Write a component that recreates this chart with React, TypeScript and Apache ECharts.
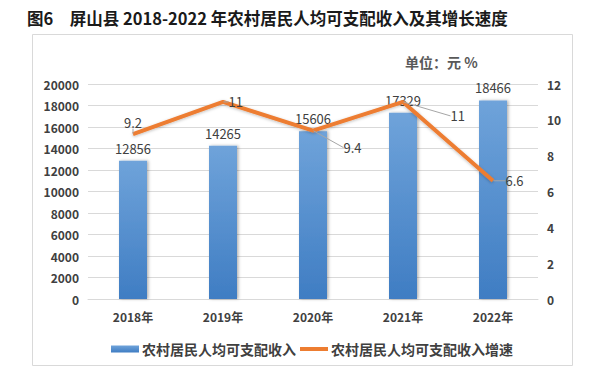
import React, { useEffect, useRef } from "react";
import * as echarts from "echarts";

const categories = ["2018年", "2019年", "2020年", "2021年", "2022年"];
const incomeValues = [12856, 14265, 15606, 17329, 18466];
const growthValues = [9.2, 11, 9.4, 11, 6.6];
const incomeName = "农村居民人均可支配收入";
const growthName = "农村居民人均可支配收入增速";
const titleText = "图6　屏山县 2018-2022 年农村居民人均可支配收入及其增长速度";
const unitText = "单位：元 %";

const FONT = "'Noto Sans CJK SC', 'Noto Sans', sans-serif";

export default function App() {
  const ref = useRef<HTMLDivElement>(null);
  useEffect(() => {
    if (!ref.current) return;
    const chart = echarts.init(ref.current, null, { renderer: "svg" });
    const labelMoves: Record<number, [number, number]> = {
      2: [25, 17],
      3: [42, 14],
    };
    const labelStyles: Record<number, any> = {
      0: { position: "top", offset: [-9, -3] },
      1: { position: "right", offset: [-1, -2] },
      4: { position: "right", distance: 12 },
    };
    const growthData = growthValues.map((v, i) => ({
      value: v,
      label: labelStyles[i] || {},
    }));
    chart.setOption({
      animation: false,
      backgroundColor: "#ffffff",
      textStyle: { fontFamily: FONT },
      title: {
        text: titleText,
        left: 22,
        top: 5,
        textStyle: { fontFamily: FONT, fontSize: 16.5, fontWeight: "bold", color: "#1a1a1a" },
      },
      graphic: [
        {
          type: "rect",
          shape: { x: 32.5, y: 34.5, width: 540, height: 331 },
          style: { fill: "none", stroke: "#d9d9d9", lineWidth: 1 },
          silent: true,
        },
        {
          type: "text",
          x: 405,
          y: 55,
          style: { text: unitText, fontFamily: FONT, fontSize: 14, fontWeight: "bold", fill: "#595959" },
        },
      ],
      legend: {
        left: 106,
        top: 337,
        itemGap: 4,
        itemWidth: 28,
        itemHeight: 7,
        textStyle: { fontFamily: FONT, fontSize: 14, fontWeight: "bold", color: "#404040", padding: [0, 0, 0, -2] },
        data: [
          { name: incomeName, icon: "rect" },
          { name: growthName, icon: "path://M0,0h28v4h-28z", itemStyle: { color: "#ED7D31", opacity: 1 } },
        ],
      },
      grid: { left: 88, right: 55, top: 84, bottom: 76 },
      xAxis: {
        type: "category",
        data: categories,
        axisLine: { lineStyle: { color: "#d9d9d9" } },
        axisTick: { show: false },
        axisLabel: { color: "#404040", fontSize: 12, fontWeight: "bold", margin: 11, fontFamily: FONT },
      },
      yAxis: [
        {
          type: "value",
          min: 0,
          max: 20000,
          interval: 2000,
          axisLine: { show: false },
          axisTick: { show: false },
          splitLine: { lineStyle: { color: "#d9d9d9" } },
          axisLabel: {
            color: "#404040",
            fontSize: 12,
            fontWeight: "bold",
            margin: 9,
            fontFamily: FONT,
            formatter: (v: number) => String(v),
          },
        },
        {
          type: "value",
          min: 0,
          max: 12,
          interval: 2,
          axisLine: { show: false },
          axisTick: { show: false },
          splitLine: { show: false },
          axisLabel: { color: "#404040", fontSize: 12, fontWeight: "bold", margin: 9, fontFamily: FONT },
        },
      ],
      series: [
        {
          name: incomeName,
          type: "bar",
          data: incomeValues,
          barWidth: 28,
          itemStyle: {
            color: new echarts.graphic.LinearGradient(0, 0, 0, 1, [
              { offset: 0, color: "#6fa3da" },
              { offset: 1, color: "#3f7dc3" },
            ]),
            shadowColor: "rgba(0,0,0,0.3)",
            shadowBlur: 3,
            shadowOffsetX: 1.5,
            shadowOffsetY: 0,
          },
          label: {
            show: true,
            position: "top",
            distance: 6,
            color: "#404040",
            fontSize: 13,
            fontFamily: FONT,
          },
        },
        {
          name: growthName,
          type: "line",
          yAxisIndex: 1,
          data: growthData,
          symbol: "circle",
          symbolSize: 1,
          showSymbol: true,
          lineStyle: {
            color: "#ED7D31",
            width: 4,
            shadowColor: "rgba(0,0,0,0.25)",
            shadowBlur: 3,
            shadowOffsetY: 1,
          },
          itemStyle: { color: "rgba(237,125,49,0)" },
          label: {
            show: true,
            color: "#404040",
            fontSize: 13,
            fontFamily: FONT,
            position: "right",
            distance: 5,
          },
          labelLine: {
            show: true,
            lineStyle: { color: "#a6a6a6", width: 1 },
          },
          labelLayout: (params: any) => {
            const m = labelMoves[params.dataIndex];
            if (m) return { dx: m[0], dy: m[1] };
            return {};
          },
        },
      ],
    });
    return () => chart.dispose();
  }, []);
  return <div ref={ref} style={{ width: 593, height: 375, position: "absolute", left: 0, top: 0 }} />;
}
